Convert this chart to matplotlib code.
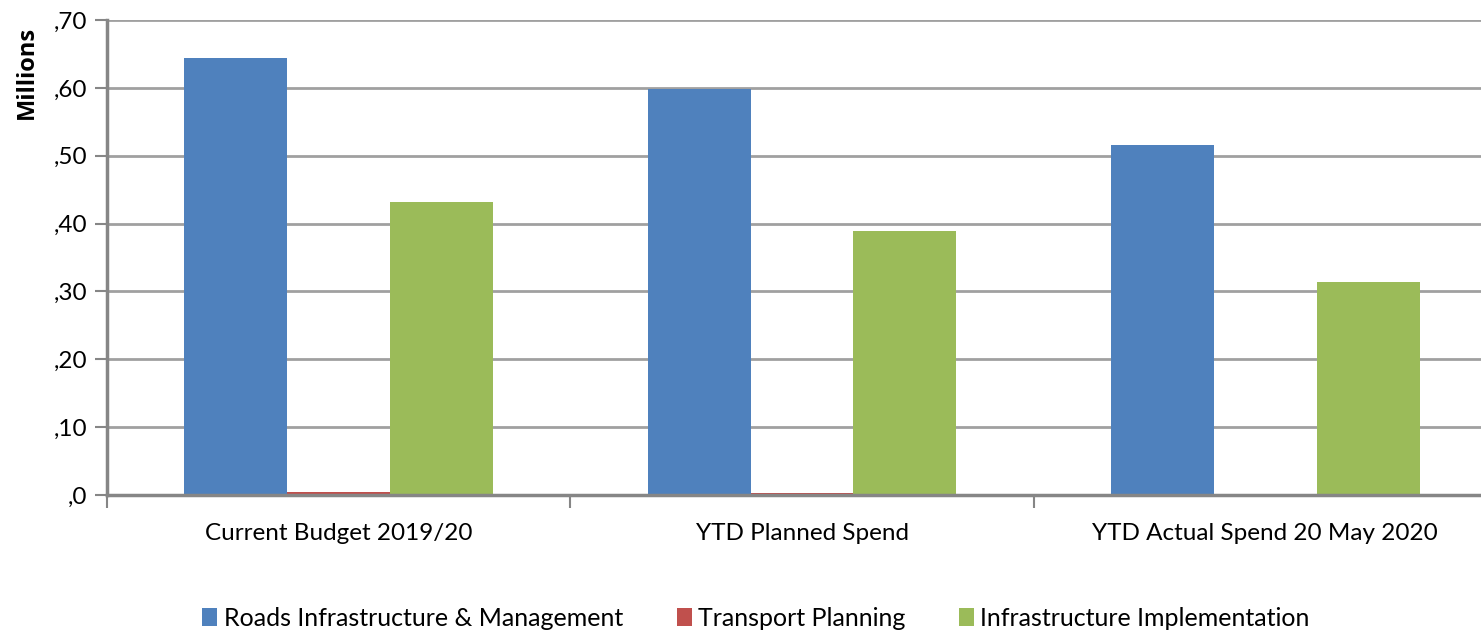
import matplotlib
matplotlib.use("Agg")
import matplotlib.pyplot as plt
import numpy as np
from matplotlib.patches import Patch

plt.rcParams['font.family'] = ['Lato', 'DejaVu Sans']

categories = ["Current Budget 2019/20", "YTD Planned Spend", "YTD Actual Spend 20 May 2020"]
series_names = ["Roads Infrastructure & Management", "Transport Planning", "Infrastructure Implementation"]
roads = [0.644, 0.598, 0.516]
transport = [0.005, 0.003, 0.0]
implementation = [0.432, 0.389, 0.314]
colors = ["#4F81BD", "#C0504D", "#9BBB59"]
yticks = [0.0, 0.1, 0.2, 0.3, 0.4, 0.5, 0.6, 0.7]
ytick_labels = [",0", ",10", ",20", ",30", ",40", ",50", ",60", ",70"]

fig = plt.figure(figsize=(14.81, 6.32), dpi=100)
ax = fig.add_axes([107/1481, 1 - 495/632, (1497 - 107)/1481, (495 - 20)/632])

x = np.arange(len(categories))
width = 0.222
for i, (vals, col) in enumerate(zip([roads, transport, implementation], colors)):
    ax.bar(x + (i - 1) * width, vals, width, color=col, zorder=3, linewidth=0)

ax.set_xlim(-0.5, len(categories) - 0.5)
ax.set_ylim(0, 0.7)
ax.set_yticks(yticks)
ax.set_yticklabels(ytick_labels, fontsize=17.5)
ax.yaxis.grid(True, color="#A0A0A0", linewidth=2, zorder=0)

ax.set_xticks(x)
ax.set_xticklabels(categories, fontsize=17.5)
ax.tick_params(axis="x", length=0, pad=20)
ax.set_xticks(np.arange(-0.5, len(categories), 1.0), minor=True)
ax.tick_params(axis="x", which="minor", length=9, width=1.5, color="#868686")
ax.tick_params(axis="y", length=9, width=1.5, color="#868686", pad=5)

for side in ["top", "right"]:
    ax.spines[side].set_visible(False)
for side in ["left", "bottom"]:
    ax.spines[side].set_color("#868686")
    ax.spines[side].set_linewidth(2.5)
    ax.spines[side].set_zorder(4)

fig.text(27/1481, 1 - 72/632, "Millions", rotation=90, fontsize=17, fontweight="bold",
         family=["Open Sans", "DejaVu Sans"], ha="center", va="center")

handles = [Patch(facecolor=c, edgecolor="none") for c in colors]
fig.legend(handles, series_names, loc="center", bbox_to_anchor=(756/1481, 1 - 618/632),
           ncol=3, frameon=False, fontsize=18, handlelength=0.6, handleheight=0.75,
           handletextpad=0.25, columnspacing=2.15)

fig.savefig("out.png", dpi=100)
